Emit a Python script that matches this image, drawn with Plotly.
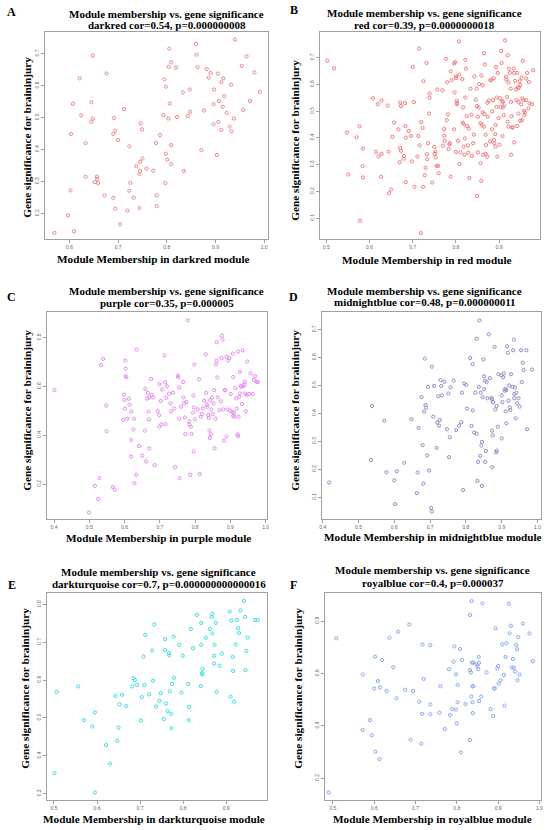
import plotly.graph_objects as go

# module membership (MM) vs gene significance (GS)
darkred_pts = [
    (0.569, 0.139), (0.609, 0.144), (0.597, 0.194), (0.602, 0.272), (0.603, 0.449), (0.607, 0.543),
    (0.621, 0.623), (0.624, 0.507), (0.633, 0.420), (0.633, 0.315), (0.648, 0.694), (0.656, 0.315),
    (0.657, 0.308), (0.652, 0.298), (0.659, 0.295), (0.676, 0.638), (0.645, 0.548), (0.645, 0.487),
    (0.648, 0.497), (0.672, 0.256), (0.691, 0.499), (0.690, 0.449), (0.694, 0.459), (0.700, 0.430),
    (0.690, 0.249), (0.694, 0.215), (0.704, 0.166), (0.712, 0.527), (0.719, 0.209), (0.723, 0.271),
    (0.725, 0.296), (0.723, 0.410), (0.732, 0.249), (0.737, 0.348), (0.745, 0.362), (0.745, 0.333),
    (0.744, 0.323), (0.744, 0.217), (0.746, 0.482), (0.749, 0.463), (0.750, 0.372), (0.758, 0.340),
    (0.772, 0.334), (0.778, 0.420), (0.779, 0.257), (0.779, 0.223), (0.786, 0.445), (0.793, 0.508),
    (0.795, 0.620), (0.798, 0.597), (0.798, 0.387), (0.801, 0.368), (0.797, 0.295), (0.803, 0.497),
    (0.804, 0.659), (0.805, 0.716), (0.806, 0.544), (0.809, 0.673), (0.809, 0.414), (0.809, 0.354),
    (0.819, 0.657), (0.821, 0.502), (0.835, 0.333), (0.833, 0.579), (0.843, 0.505), (0.847, 0.588),
    (0.848, 0.518), (0.860, 0.731), (0.861, 0.697), (0.863, 0.658), (0.871, 0.398), (0.876, 0.522),
    (0.882, 0.652), (0.886, 0.625), (0.890, 0.640), (0.896, 0.542), (0.896, 0.479), (0.897, 0.588),
    (0.903, 0.383), (0.905, 0.638), (0.906, 0.487), (0.907, 0.552), (0.912, 0.611), (0.912, 0.461),
    (0.915, 0.534), (0.916, 0.623), (0.918, 0.567), (0.923, 0.515), (0.929, 0.472), (0.932, 0.603),
    (0.933, 0.457), (0.938, 0.497), (0.940, 0.744), (0.954, 0.662), (0.957, 0.524), (0.964, 0.692),
    (0.971, 0.552), (0.980, 0.642), (0.991, 0.581),
]

red_pts = [
    (0.502, 0.689), (0.518, 0.660), (0.548, 0.420), (0.551, 0.263), (0.570, 0.402), (0.577, 0.443),
    (0.578, 0.090), (0.585, 0.360), (0.584, 0.295), (0.585, 0.252), (0.608, 0.548), (0.615, 0.348),
    (0.619, 0.526), (0.621, 0.331), (0.628, 0.540), (0.628, 0.340), (0.627, 0.255), (0.642, 0.521),
    (0.644, 0.348), (0.645, 0.193), (0.650, 0.207), (0.653, 0.404), (0.657, 0.457), (0.667, 0.432),
    (0.670, 0.309), (0.671, 0.532), (0.673, 0.519), (0.671, 0.362), (0.673, 0.352), (0.679, 0.322),
    (0.680, 0.332), (0.683, 0.444), (0.684, 0.401), (0.684, 0.235), (0.682, 0.530), (0.691, 0.426),
    (0.696, 0.407), (0.698, 0.312), (0.700, 0.665), (0.703, 0.534), (0.704, 0.217), (0.711, 0.330),
    (0.713, 0.407), (0.715, 0.734), (0.716, 0.372), (0.719, 0.044), (0.720, 0.459), (0.723, 0.437),
    (0.724, 0.217), (0.725, 0.612), (0.728, 0.260), (0.730, 0.288), (0.732, 0.680), (0.733, 0.339),
    (0.734, 0.320), (0.736, 0.380), (0.738, 0.491), (0.739, 0.566), (0.739, 0.550), (0.745, 0.233),
    (0.750, 0.366), (0.751, 0.340), (0.753, 0.348), (0.753, 0.327), (0.755, 0.295), (0.757, 0.581),
    (0.759, 0.295), (0.760, 0.268), (0.769, 0.578), (0.770, 0.371), (0.773, 0.433), (0.773, 0.408),
    (0.774, 0.389), (0.777, 0.696), (0.779, 0.466), (0.780, 0.608), (0.782, 0.488), (0.785, 0.375),
    (0.783, 0.358), (0.786, 0.380), (0.788, 0.649), (0.788, 0.255), (0.790, 0.616), (0.796, 0.432),
    (0.796, 0.678), (0.798, 0.683), (0.797, 0.570), (0.800, 0.630), (0.800, 0.624), (0.800, 0.347),
    (0.802, 0.539), (0.803, 0.531), (0.803, 0.526), (0.805, 0.389), (0.807, 0.761), (0.808, 0.302),
    (0.808, 0.637), (0.811, 0.346), (0.815, 0.620), (0.816, 0.457), (0.817, 0.514), (0.818, 0.452),
    (0.818, 0.367), (0.820, 0.337), (0.821, 0.398), (0.822, 0.692), (0.823, 0.659), (0.822, 0.551),
    (0.825, 0.481), (0.826, 0.444), (0.828, 0.372), (0.829, 0.345), (0.830, 0.435), (0.831, 0.250),
    (0.834, 0.584), (0.836, 0.487), (0.837, 0.332), (0.840, 0.380), (0.842, 0.412), (0.843, 0.630),
    (0.846, 0.543), (0.848, 0.584), (0.849, 0.183), (0.849, 0.519), (0.851, 0.479), (0.851, 0.346),
    (0.853, 0.514), (0.854, 0.601), (0.857, 0.455), (0.857, 0.305), (0.859, 0.633), (0.859, 0.239),
    (0.860, 0.449), (0.862, 0.496), (0.862, 0.597), (0.863, 0.337), (0.865, 0.442), (0.865, 0.717),
    (0.866, 0.489), (0.867, 0.675), (0.869, 0.412), (0.869, 0.340), (0.870, 0.373), (0.873, 0.330),
    (0.873, 0.531), (0.874, 0.479), (0.876, 0.539), (0.879, 0.387), (0.880, 0.616), (0.882, 0.616),
    (0.884, 0.432), (0.884, 0.499), (0.886, 0.541), (0.888, 0.623), (0.888, 0.392), (0.889, 0.380),
    (0.891, 0.414), (0.892, 0.367), (0.892, 0.448), (0.893, 0.665), (0.894, 0.551), (0.894, 0.516),
    (0.896, 0.330), (0.897, 0.643), (0.899, 0.474), (0.901, 0.375), (0.902, 0.548), (0.903, 0.516),
    (0.905, 0.725), (0.906, 0.680), (0.907, 0.537), (0.908, 0.407), (0.909, 0.535), (0.909, 0.514),
    (0.911, 0.485), (0.912, 0.521), (0.914, 0.765), (0.916, 0.628), (0.917, 0.618), (0.919, 0.553),
    (0.920, 0.709), (0.920, 0.460), (0.922, 0.607), (0.922, 0.442), (0.923, 0.659), (0.925, 0.643),
    (0.927, 0.584), (0.928, 0.535), (0.928, 0.337), (0.929, 0.481), (0.930, 0.439), (0.932, 0.439),
    (0.934, 0.659), (0.935, 0.643), (0.935, 0.383), (0.937, 0.613), (0.939, 0.581), (0.940, 0.541),
    (0.942, 0.643), (0.942, 0.444), (0.943, 0.588), (0.945, 0.535), (0.945, 0.491), (0.946, 0.588),
    (0.948, 0.612), (0.949, 0.598), (0.949, 0.464), (0.951, 0.525), (0.952, 0.625), (0.953, 0.466),
    (0.954, 0.548), (0.955, 0.688), (0.957, 0.541), (0.958, 0.501), (0.959, 0.485), (0.960, 0.495),
    (0.963, 0.622), (0.963, 0.541), (0.965, 0.643), (0.968, 0.510), (0.969, 0.609), (0.971, 0.529),
    (0.976, 0.526), (0.979, 0.653),
]

purple_pts = [
    (0.401, 0.585), (0.499, 0.084), (0.516, 0.193), (0.525, 0.139), (0.529, 0.224), (0.533, 0.687),
    (0.539, 0.713), (0.548, 0.522), (0.549, 0.416), (0.566, 0.188), (0.572, 0.177), (0.596, 0.463),
    (0.598, 0.566), (0.600, 0.544), (0.601, 0.509), (0.602, 0.707), (0.603, 0.673), (0.603, 0.642),
    (0.605, 0.637), (0.608, 0.468), (0.612, 0.550), (0.614, 0.525), (0.618, 0.313), (0.619, 0.381),
    (0.619, 0.497), (0.625, 0.424), (0.627, 0.468), (0.628, 0.204), (0.633, 0.238), (0.634, 0.751),
    (0.641, 0.356), (0.650, 0.316), (0.657, 0.419), (0.659, 0.590), (0.661, 0.293), (0.664, 0.550),
    (0.666, 0.574), (0.668, 0.497), (0.669, 0.465), (0.670, 0.555), (0.670, 0.346), (0.675, 0.631),
    (0.677, 0.566), (0.681, 0.555), (0.685, 0.278), (0.694, 0.499), (0.698, 0.482), (0.699, 0.610),
    (0.699, 0.435), (0.702, 0.540), (0.704, 0.445), (0.706, 0.588), (0.713, 0.727), (0.715, 0.617),
    (0.716, 0.446), (0.718, 0.554), (0.720, 0.601), (0.726, 0.571), (0.730, 0.531), (0.732, 0.498),
    (0.737, 0.574), (0.741, 0.510), (0.743, 0.269), (0.751, 0.645), (0.752, 0.638), (0.755, 0.596),
    (0.755, 0.468), (0.756, 0.224), (0.760, 0.517), (0.766, 0.618), (0.767, 0.555), (0.769, 0.531),
    (0.771, 0.473), (0.772, 0.405), (0.775, 0.536), (0.779, 0.871), (0.783, 0.457), (0.784, 0.443),
    (0.786, 0.238), (0.788, 0.435), (0.790, 0.405), (0.794, 0.493), (0.795, 0.563), (0.796, 0.514),
    (0.796, 0.333), (0.798, 0.690), (0.799, 0.465), (0.807, 0.506), (0.811, 0.629), (0.813, 0.241),
    (0.816, 0.476), (0.819, 0.487), (0.822, 0.510), (0.826, 0.541), (0.830, 0.732), (0.831, 0.574),
    (0.833, 0.525), (0.835, 0.517), (0.837, 0.483), (0.839, 0.471), (0.841, 0.419), (0.842, 0.389),
    (0.843, 0.544), (0.845, 0.404), (0.846, 0.506), (0.848, 0.555), (0.850, 0.487), (0.852, 0.531),
    (0.854, 0.585), (0.855, 0.347), (0.858, 0.468), (0.859, 0.691), (0.861, 0.781), (0.861, 0.706),
    (0.863, 0.637), (0.864, 0.555), (0.869, 0.503), (0.873, 0.539), (0.875, 0.716), (0.876, 0.808),
    (0.878, 0.792), (0.880, 0.506), (0.882, 0.378), (0.884, 0.585), (0.886, 0.585), (0.889, 0.722),
    (0.889, 0.395), (0.892, 0.506), (0.894, 0.707), (0.897, 0.716), (0.899, 0.501), (0.901, 0.569),
    (0.905, 0.495), (0.907, 0.735), (0.908, 0.639), (0.908, 0.479), (0.910, 0.493), (0.912, 0.476),
    (0.914, 0.593), (0.916, 0.551), (0.918, 0.509), (0.920, 0.403), (0.922, 0.743), (0.922, 0.397),
    (0.923, 0.476), (0.925, 0.558), (0.927, 0.571), (0.927, 0.660), (0.929, 0.601), (0.931, 0.599),
    (0.933, 0.528), (0.935, 0.748), (0.937, 0.601), (0.939, 0.607), (0.941, 0.619), (0.942, 0.571),
    (0.944, 0.498), (0.946, 0.566), (0.948, 0.702), (0.953, 0.569), (0.957, 0.653), (0.963, 0.569),
    (0.967, 0.626), (0.970, 0.642), (0.974, 0.619), (0.978, 0.618),
]

midnightblue_pts = [
    (0.418, 0.152), (0.538, 0.426), (0.535, 0.233), (0.572, 0.374), (0.578, 0.189), (0.600, 0.160),
    (0.602, 0.075), (0.607, 0.192), (0.628, 0.223), (0.648, 0.379), (0.663, 0.114), (0.665, 0.188),
    (0.668, 0.348), (0.676, 0.458), (0.679, 0.286), (0.681, 0.148), (0.683, 0.406), (0.685, 0.596),
    (0.687, 0.430), (0.689, 0.420), (0.692, 0.249), (0.694, 0.495), (0.697, 0.195), (0.703, 0.061),
    (0.705, 0.048), (0.705, 0.567), (0.709, 0.388), (0.711, 0.498), (0.718, 0.276), (0.720, 0.367),
    (0.723, 0.461), (0.725, 0.356), (0.727, 0.376), (0.729, 0.519), (0.731, 0.498), (0.733, 0.464),
    (0.740, 0.513), (0.747, 0.343), (0.751, 0.471), (0.753, 0.243), (0.755, 0.314), (0.757, 0.493),
    (0.766, 0.517), (0.773, 0.340), (0.781, 0.356), (0.787, 0.368), (0.789, 0.474), (0.792, 0.125),
    (0.795, 0.507), (0.801, 0.502), (0.803, 0.417), (0.812, 0.598), (0.816, 0.355), (0.819, 0.576),
    (0.819, 0.410), (0.823, 0.331), (0.826, 0.474), (0.830, 0.667), (0.830, 0.327), (0.832, 0.158),
    (0.834, 0.226), (0.836, 0.495), (0.838, 0.733), (0.840, 0.248), (0.841, 0.474), (0.843, 0.285),
    (0.845, 0.140), (0.845, 0.298), (0.847, 0.457), (0.849, 0.593), (0.851, 0.533), (0.851, 0.486),
    (0.853, 0.517), (0.854, 0.226), (0.856, 0.265), (0.858, 0.512), (0.860, 0.454), (0.864, 0.683),
    (0.867, 0.526), (0.871, 0.455), (0.873, 0.338), (0.873, 0.450), (0.874, 0.207), (0.875, 0.321),
    (0.876, 0.440), (0.880, 0.638), (0.882, 0.414), (0.884, 0.260), (0.886, 0.426), (0.886, 0.266),
    (0.889, 0.352), (0.891, 0.540), (0.899, 0.536), (0.900, 0.464), (0.900, 0.310), (0.902, 0.440),
    (0.904, 0.529), (0.906, 0.543), (0.908, 0.481), (0.910, 0.488), (0.911, 0.407), (0.913, 0.483),
    (0.913, 0.364), (0.915, 0.640), (0.917, 0.617), (0.919, 0.445), (0.921, 0.500), (0.923, 0.421),
    (0.924, 0.412), (0.926, 0.540), (0.930, 0.495), (0.932, 0.626), (0.934, 0.664), (0.935, 0.469),
    (0.935, 0.454), (0.937, 0.493), (0.939, 0.382), (0.941, 0.474), (0.943, 0.436), (0.947, 0.454),
    (0.950, 0.424), (0.954, 0.626), (0.956, 0.512), (0.959, 0.581), (0.961, 0.555), (0.969, 0.626),
    (0.971, 0.343), (0.985, 0.557),
]

darkturquoise_pts = [
    (0.501, 0.354), (0.506, 0.569), (0.556, 0.583), (0.570, 0.494), (0.589, 0.477), (0.595, 0.515),
    (0.595, 0.303), (0.621, 0.428), (0.630, 0.379), (0.643, 0.558), (0.647, 0.439), (0.650, 0.474),
    (0.652, 0.536), (0.658, 0.561), (0.668, 0.531), (0.682, 0.583), (0.684, 0.605), (0.688, 0.600),
    (0.693, 0.587), (0.702, 0.493), (0.704, 0.555), (0.708, 0.662), (0.710, 0.587), (0.712, 0.719),
    (0.721, 0.562), (0.728, 0.678), (0.730, 0.598), (0.733, 0.747), (0.737, 0.530), (0.745, 0.545),
    (0.748, 0.565), (0.755, 0.497), (0.758, 0.708), (0.758, 0.679), (0.760, 0.538), (0.764, 0.518),
    (0.767, 0.671), (0.768, 0.665), (0.769, 0.570), (0.772, 0.511), (0.773, 0.473), (0.774, 0.590),
    (0.778, 0.715), (0.779, 0.606), (0.791, 0.693), (0.796, 0.567), (0.799, 0.664), (0.812, 0.590),
    (0.813, 0.494), (0.814, 0.529), (0.818, 0.735), (0.823, 0.684), (0.832, 0.772), (0.841, 0.584),
    (0.842, 0.693), (0.842, 0.751), (0.844, 0.618), (0.845, 0.615), (0.845, 0.629), (0.853, 0.712),
    (0.862, 0.735), (0.866, 0.767), (0.868, 0.775), (0.868, 0.723), (0.872, 0.644), (0.872, 0.664),
    (0.873, 0.693), (0.876, 0.751), (0.878, 0.569), (0.885, 0.638), (0.890, 0.670), (0.908, 0.781),
    (0.910, 0.556), (0.912, 0.757), (0.915, 0.661), (0.916, 0.624), (0.918, 0.543), (0.922, 0.694),
    (0.925, 0.759), (0.928, 0.737), (0.930, 0.724), (0.933, 0.784), (0.941, 0.809), (0.944, 0.767),
    (0.945, 0.626), (0.947, 0.677), (0.950, 0.712), (0.967, 0.759), (0.973, 0.759),
]

royalblue_pts = [
    (0.490, 0.146), (0.508, 0.734), (0.572, 0.596), (0.572, 0.384), (0.590, 0.422), (0.594, 0.364),
    (0.600, 0.543), (0.602, 0.664), (0.603, 0.301), (0.609, 0.571), (0.613, 0.273), (0.614, 0.546),
    (0.619, 0.651), (0.630, 0.533), (0.637, 0.736), (0.646, 0.624), (0.654, 0.505), (0.658, 0.759),
    (0.675, 0.538), (0.685, 0.787), (0.688, 0.347), (0.694, 0.533), (0.709, 0.492), (0.714, 0.332),
    (0.716, 0.446), (0.717, 0.711), (0.720, 0.579), (0.736, 0.708), (0.736, 0.482), (0.736, 0.444),
    (0.758, 0.450), (0.760, 0.551), (0.771, 0.388), (0.781, 0.616), (0.784, 0.441), (0.789, 0.464),
    (0.792, 0.645), (0.794, 0.703), (0.798, 0.597), (0.798, 0.462), (0.800, 0.409), (0.802, 0.556),
    (0.802, 0.490), (0.808, 0.693), (0.810, 0.299), (0.813, 0.651), (0.821, 0.483), (0.832, 0.346),
    (0.832, 0.823), (0.832, 0.613), (0.834, 0.604), (0.835, 0.512), (0.836, 0.876), (0.837, 0.641),
    (0.838, 0.551), (0.840, 0.641), (0.840, 0.551), (0.838, 0.490), (0.839, 0.449), (0.848, 0.635),
    (0.850, 0.628), (0.852, 0.616), (0.853, 0.663), (0.854, 0.641), (0.854, 0.495), (0.859, 0.512),
    (0.862, 0.867), (0.872, 0.604), (0.882, 0.464), (0.888, 0.437), (0.890, 0.543), (0.892, 0.543),
    (0.894, 0.772), (0.898, 0.619), (0.900, 0.628), (0.901, 0.561), (0.906, 0.574), (0.910, 0.711),
    (0.914, 0.594), (0.915, 0.477), (0.918, 0.663), (0.920, 0.715), (0.926, 0.866), (0.928, 0.753),
    (0.931, 0.782), (0.933, 0.622), (0.936, 0.655), (0.938, 0.622), (0.941, 0.607), (0.944, 0.708),
    (0.946, 0.692), (0.947, 0.574), (0.949, 0.739), (0.952, 0.596), (0.960, 0.790), (0.976, 0.753),
    (0.984, 0.647),
]

modules = ["darkred", "red", "purple", "midnightblue", "darkturquoise", "royalblue"]
letters = ["A", "B", "C", "D", "E", "F"]
cor_text = ["cor=0.54, p=0.000000008", "cor=0.39, p=0.0000000018", "cor=0.35, p=0.000005",
            "cor=0.48, p=0.000000011", "cor=0.7, p=0.000000000000016", "cor=0.4, p=0.000037"]
points = [darkred_pts, red_pts, purple_pts, midnightblue_pts, darkturquoise_pts, royalblue_pts]
x_ticks = [[0.6, 0.7, 0.8, 0.9, 1.0], [0.5, 0.6, 0.7, 0.8, 0.9], [0.4, 0.5, 0.6, 0.7, 0.8, 0.9, 1.0],
           [0.4, 0.5, 0.6, 0.7, 0.8, 0.9, 1.0], [0.5, 0.6, 0.7, 0.8, 0.9], [0.5, 0.6, 0.7, 0.8, 0.9, 1.0]]
y_ticks = [[0.2, 0.3, 0.4, 0.5, 0.6, 0.7], [0.1, 0.2, 0.3, 0.4, 0.5, 0.6, 0.7], [0.2, 0.4, 0.6, 0.8],
           [0.1, 0.2, 0.3, 0.4, 0.5, 0.6, 0.7], [0.3, 0.4, 0.5, 0.6, 0.7, 0.8], [0.2, 0.4, 0.6, 0.8]]

# how the dots look in the (blurry) figure
dot_colors = ["#e68a8a", "#f27a7a", "#e48af2", "#8c8cc8", "#38dde6", "#86a6f0"]

W, H = 550, 830
# plot boxes in pixels: left, right, top, bottom
boxes = [(43, 268, 32, 239), (320, 542, 32, 239),
         (45, 267, 312, 519), (322, 543, 312, 519),
         (45, 267, 593, 800), (325, 543, 593, 800)]
x_ranges = [(0.549, 1.008), (0.4846, 0.995), (0.379, 1.004), (0.397, 1.010), (0.483, 0.995), (0.480, 1.004)]
y_ranges = [(0.120, 0.768), (0.0217, 0.796), (0.057, 0.905), (0.0214, 0.763), (0.283, 0.830), (0.117, 0.907)]
title_x = [166, 426, 166, 426, 158, 434]
title_y = [(14, 25), (13, 25), (291, 303), (291, 302), (572, 584), (570, 583)]
letter_pos = [(10, 12), (294, 10), (10, 297), (294, 297), (10, 585), (294, 585)]
ytitle_pos = [(25, 137), (295, 140), (25, 410), (295, 410), (23, 688), (298, 688)]
xtitle_pos = [(153, 259), (428, 260), (158, 538), (434, 537), (153, 819), (434, 819)]

SERIF = "Liberation Serif, Times New Roman, serif"

fig = go.Figure()
annotations = []


def px(x):
    return x / W


def py(y):
    return 1 - y / H


def label(text, pos, size, angle=0):
    return dict(text=text, x=px(pos[0]), y=py(pos[1]), xref="paper", yref="paper",
                xanchor="center", yanchor="middle", textangle=angle, showarrow=False,
                font=dict(family=SERIF, size=size, color="black"))


for i, mod in enumerate(modules):
    n = "" if i == 0 else str(i + 1)
    mm = [p[0] for p in points[i]]
    gs = [p[1] for p in points[i]]
    fig.add_trace(go.Scatter(
        x=mm, y=gs, mode="markers", xaxis="x" + n, yaxis="y" + n,
        marker=dict(symbol="circle-open", size=3.2, color=dot_colors[i], line=dict(width=1)),
        showlegend=False, hoverinfo="skip"))

    l, r, t, b = boxes[i]
    axis_style = dict(showline=True, mirror=True, linecolor="#a0a0a0", linewidth=1,
                      ticks="outside", ticklen=3, tickcolor="#a0a0a0", tickwidth=1,
                      showgrid=False, zeroline=False, tickformat=".1f",
                      tickfont=dict(family="Arial, sans-serif", size=5, color="#666666"))
    fig.layout["xaxis" + n] = dict(axis_style, domain=[px(l), px(r)], range=list(x_ranges[i]),
                                   tickvals=x_ticks[i], anchor="y" + n)
    fig.layout["yaxis" + n] = dict(axis_style, domain=[py(b), py(t)], range=list(y_ranges[i]),
                                   tickvals=y_ticks[i], anchor="x" + n, tickangle=-90)

    annotations.append(label("<b>Module membership vs. gene significance</b>",
                             (title_x[i], title_y[i][0]), 11))
    annotations.append(label("<b>%s %s</b>" % (mod, cor_text[i]), (title_x[i], title_y[i][1]), 11))
    annotations.append(label("<b>%s</b>" % letters[i], letter_pos[i], 12))
    annotations.append(label("<b>Gene significance for braininjury</b>", ytitle_pos[i], 11.3, -90))
    annotations.append(label("<b>Module Membership in %s module</b>" % mod, xtitle_pos[i], 11.2))

fig.update_layout(width=W, height=H, margin=dict(l=0, r=0, t=0, b=0),
                  paper_bgcolor="white", plot_bgcolor="white", annotations=annotations)

fig.write_html("out.html", config={"displayModeBar": False},
               post_script="document.body.style.margin='0';")
